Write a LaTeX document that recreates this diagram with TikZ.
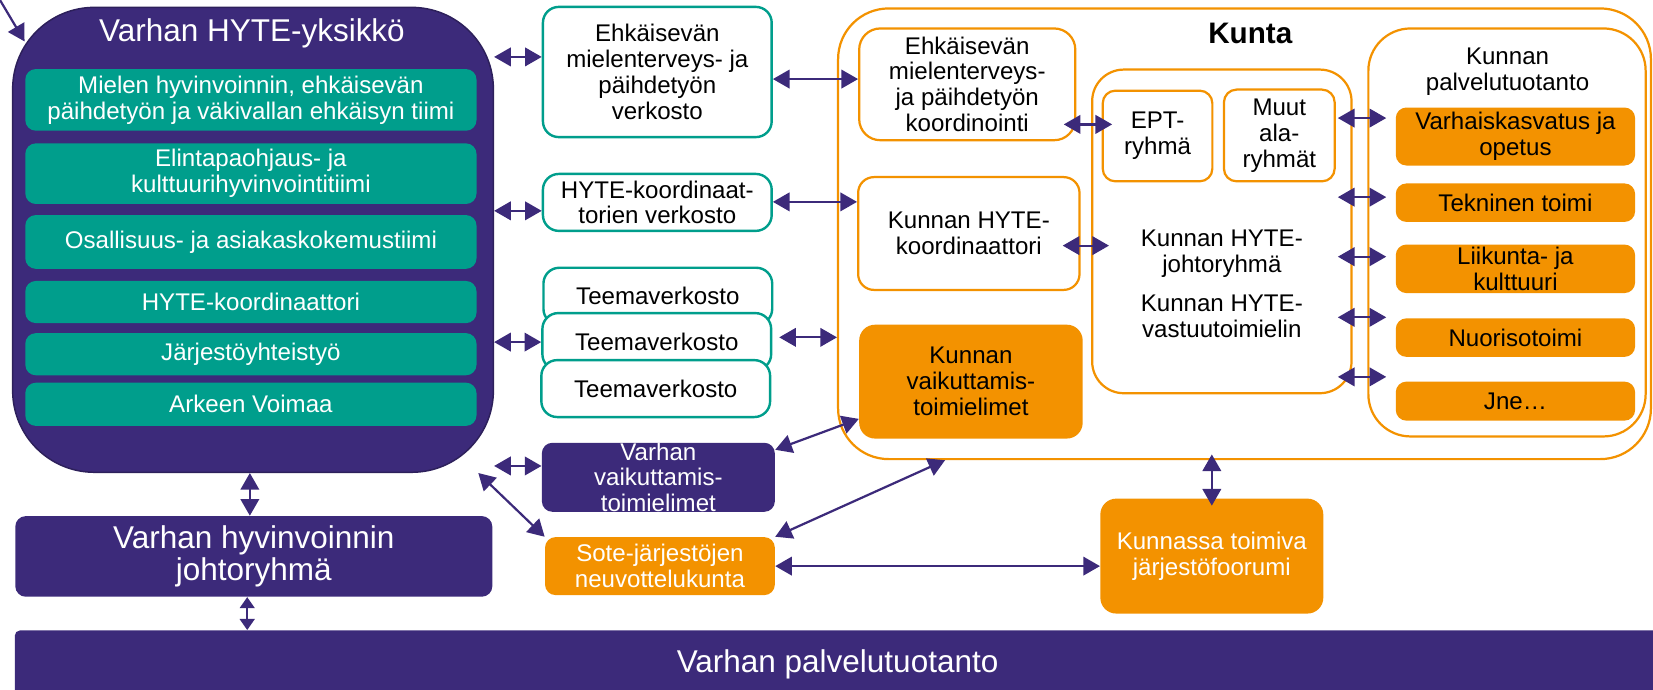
\documentclass[tikz,border=0pt]{standalone}
\usepackage{fontspec}
\setmainfont{Liberation Sans}
\usetikzlibrary{arrows.meta}
\definecolor{varhapurple}{HTML}{3C2A7A}
\definecolor{varhateal}{HTML}{009E8C}
\definecolor{varhaorange}{HTML}{F39200}
\begin{document}
\begin{tikzpicture}[font=\fontsize{13}{14}\selectfont,
        tiimi/.style={fill=varhateal, text=white, rounded corners=0.2cm, minimum width=8.56cm, inner sep=1pt, align=center},
        verkosto/.style={draw=varhateal, line width=1.3pt, fill=white, rounded corners=0.3cm, minimum width=4.34cm, inner sep=1pt, align=center},
        kuntabox/.style={draw=varhaorange, line width=1.2pt, fill=white, inner sep=1pt, align=center},
        toimi/.style={fill=varhaorange, rounded corners=0.2cm, inner xsep=1pt, inner ysep=0pt, align=center},
        varha/.style={fill=varhapurple, text=white, rounded corners=0.2cm, inner sep=1pt, align=center},
        nuoli/.style={draw=varhapurple, line width=1.2pt, {Triangle[length=9pt,width=10pt]}-{Triangle[length=9pt,width=10pt]}}]
        \useasboundingbox (0,0) rectangle (31.36,-13.08);
        \clip(0,0) rectangle (31.36,-13.08);
        \node[varha, draw=varhapurple!75!black, line width=0.8pt, rounded corners=1.55cm, minimum width=9.12cm, minimum height=8.82cm] (yksikko) at (4.80,-4.55) {};
        \node[text=white, font=\fontsize{17}{18}\selectfont] (yksikkoteksti) at (4.78,-0.63) {Varhan HYTE-yksikkö};
        \node[tiimi, minimum height=1.17cm] (mieli) at (4.76,-1.895) {Mielen hyvinvoinnin, ehkäisevän\\päihdetyön ja väkivallan ehkäisyn tiimi};
        \node[tiimi, minimum height=1.15cm] (elintapa) at (4.76,-3.295) {Elintapaohjaus- ja\\kulttuurihyvinvointitiimi};
        \node[tiimi, minimum height=1.02cm] (osallisuus) at (4.76,-4.59) {Osallisuus- ja asiakaskokemustiimi};
        \node[tiimi, minimum height=0.80cm] (koordinaattori) at (4.76,-5.73) {HYTE-koordinaattori};
        \node[tiimi, minimum height=0.80cm] (jarjesto) at (4.76,-6.72) {Järjestöyhteistyö};
        \node[tiimi, minimum height=0.82cm] (arkeen) at (4.76,-7.67) {Arkeen Voimaa};

        \node[verkosto, minimum height=2.47cm] (ehkverkosto) at (12.47,-1.366) {Ehkäisevän\\mielenterveys- ja\\päihdetyön\\verkosto};
        \node[verkosto, minimum height=1.08cm] (hyteverkosto) at (12.47,-3.84) {HYTE-koordinaat-\\torien verkosto};
        \node[verkosto, minimum height=1.08cm] (teema1) at (12.48,-5.62) {Teemaverkosto};
        \node[verkosto, minimum height=1.08cm] (teema2) at (12.46,-6.48) {Teemaverkosto};
        \node[verkosto, minimum height=1.08cm] (teema3) at (12.44,-7.372) {Teemaverkosto};

        \node[kuntabox, rounded corners=0.96cm, minimum width=15.42cm, minimum height=8.55cm] (kunta) at (23.61,-4.435) {};
        \node[font=\bfseries\fontsize{16}{17}\selectfont] (kuntateksti) at (23.72,-0.632) {Kunta};
        \node[kuntabox, rounded corners=0.4cm, minimum width=4.1cm, minimum height=2.12cm] (ehkkoord) at (18.35,-1.60) {Ehkäisevän\\mielenterveys-\\ja päihdetyön\\koordinointi};
        \node[kuntabox, rounded corners=0.3cm, minimum width=4.2cm, minimum height=2.14cm] (hytekoord) at (18.38,-4.43) {Kunnan HYTE-\\koordinaattori};
        \node[toimi, rounded corners=0.3cm, minimum width=4.24cm, minimum height=2.16cm] (kvaik) at (18.42,-7.24) {Kunnan\\vaikuttamis-\\toimielimet};
        \node[kuntabox, rounded corners=0.6cm, minimum width=4.92cm, minimum height=6.14cm] (johto) at (23.18,-4.39) {};
        \node[kuntabox, rounded corners=0.24cm, minimum width=2.08cm, minimum height=1.72cm] (ept) at (21.96,-2.58) {EPT-\\ryhmä};
        \node[kuntabox, rounded corners=0.24cm, minimum width=2.10cm, minimum height=1.74cm] (muut) at (24.27,-2.57) {Muut\\ala-\\ryhmät};
        \node[align=center] (johtoryhma) at (23.18,-4.82) {Kunnan HYTE-\\johtoryhmä};
        \node[align=center] (vastuu) at (23.18,-6.01) {Kunnan HYTE-\\vastuutoimielin};
        \node[kuntabox, rounded corners=0.8cm, minimum width=5.26cm, minimum height=7.74cm] (palvelu) at (28.59,-4.41) {};
        \node[align=center] (palveluteksti) at (28.60,-1.36) {Kunnan\\palvelutuotanto};
        \node[toimi, minimum width=4.54cm, minimum height=1.10cm] (varhaiskasvatus) at (28.75,-2.59) {Varhaiskasvatus ja\\opetus};
        \node[toimi, minimum width=4.54cm, minimum height=0.73cm] (tekninen) at (28.75,-3.845) {Tekninen toimi};
        \node[toimi, minimum width=4.54cm, minimum height=0.92cm] (liikunta) at (28.75,-5.10) {Liikunta- ja\\kulttuuri};
        \node[toimi, minimum width=4.54cm, minimum height=0.73cm] (nuoriso) at (28.75,-6.405) {Nuorisotoimi};
        \node[toimi, minimum width=4.54cm, minimum height=0.74cm] (jne) at (28.75,-7.61) {Jne…};

        \node[varha, minimum width=9.05cm, minimum height=1.53cm, font=\fontsize{17}{17.5}\selectfont] (vjohto) at (4.815,-10.556) {Varhan hyvinvoinnin\\johtoryhmä};
        \node[varha, rounded corners=0.1cm, minimum width=31.22cm, minimum height=1.28cm, font=\fontsize{17}{18}\selectfont] (vpalvelu) at (15.89,-12.6) {Varhan palvelutuotanto};
        \node[varha, inner sep=0pt, minimum width=4.42cm, minimum height=1.31cm, font=\fontsize{13}{13.6}\selectfont] (vvaik) at (12.49,-9.055) {Varhan\\vaikuttamis-\\toimielimet};
        \node[toimi, text=white, minimum width=4.36cm, minimum height=1.10cm] (sote) at (12.52,-10.74) {Sote-järjestöjen\\neuvottelukunta};
        \node[toimi, text=white, rounded corners=0.3cm, minimum width=4.23cm, minimum height=2.18cm] (foorumi) at (22.99,-10.55) {Kunnassa toimiva\\järjestöfoorumi};

        \coordinate (ulkoa) at (-0.06,0.1);
        \draw [draw=varhapurple, line width=1.2pt, -{Triangle[length=9pt,width=10pt]}] (ulkoa) -- ([xshift=0.24cm,yshift=-0.66cm]yksikko.north west);
        \draw [nuoli] (yksikko.east |- 0,-1.08) -- (ehkverkosto.west |- 0,-1.08);
        \draw [nuoli] (yksikko.east |- 0,-4.00) -- (hyteverkosto.west |- 0,-4.00);
        \draw [nuoli] (yksikko.east |- 0,-6.49) -- (teema2.west |- 0,-6.49);
        \draw [nuoli] (ehkverkosto.east |- 0,-1.50) -- (ehkkoord.west |- 0,-1.50);
        \draw [nuoli] (hyteverkosto.east |- 0,-3.83) -- (hytekoord.west |- 0,-3.83);
        \draw [nuoli, shorten <=0.13cm] (teema2.east |- 0,-6.40) -- (kunta.west |- 0,-6.40);
        \draw [nuoli, shorten <=-0.24cm, shorten >=-0.2cm] (ehkkoord.east |- 0,-2.36) -- (ept.west |- 0,-2.36);
        \draw [nuoli, shorten <=-0.34cm, shorten >=-0.34cm] (hytekoord.east |- 0,-4.66) -- (johto.west |- 0,-4.66);
        \draw [nuoli, shorten <=-0.28cm, shorten >=-0.36cm] (johto.east |- 0,-2.24) -- (palvelu.west |- 0,-2.24);
        \draw [nuoli, shorten <=-0.28cm, shorten >=-0.36cm] (johto.east |- 0,-3.74) -- (palvelu.west |- 0,-3.74);
        \draw [nuoli, shorten <=-0.28cm, shorten >=-0.36cm] (johto.east |- 0,-4.87) -- (palvelu.west |- 0,-4.87);
        \draw [nuoli, shorten <=-0.28cm, shorten >=-0.36cm] (johto.east |- 0,-6.02) -- (palvelu.west |- 0,-6.02);
        \draw [nuoli, shorten <=-0.28cm, shorten >=-0.36cm] (johto.east |- 0,-7.15) -- (palvelu.west |- 0,-7.15);
        \draw [nuoli] (yksikko.south -| 4.74,0) -- (vjohto.north -| 4.74,0);
        \draw [draw=varhapurple, line width=1.2pt, {Triangle[length=6pt,width=8pt]}-{Triangle[length=6pt,width=8pt]}] (vjohto.south -| 4.69,0) -- (vpalvelu.north -| 4.69,0);
        \draw [nuoli] (yksikko.east |- 0,-8.84) -- (vvaik.west |- 0,-8.84);
        \draw [nuoli] ([xshift=-0.3cm]yksikko.south east) -- (sote.north west);
        \draw [nuoli] ([yshift=-0.14cm]vvaik.north east) -- ([yshift=0.38cm]kvaik.south west);
        \draw [nuoli] (sote.north east) -- ([xshift=2.05cm]kunta.south west);
        \draw [nuoli, shorten <=-0.11cm, shorten >=-0.14cm] (kunta.south -| foorumi.north) -- (foorumi.north);
        \draw [nuoli] (sote.east) -- (foorumi.west |- sote.east);
    \end{tikzpicture}
\end{document}
